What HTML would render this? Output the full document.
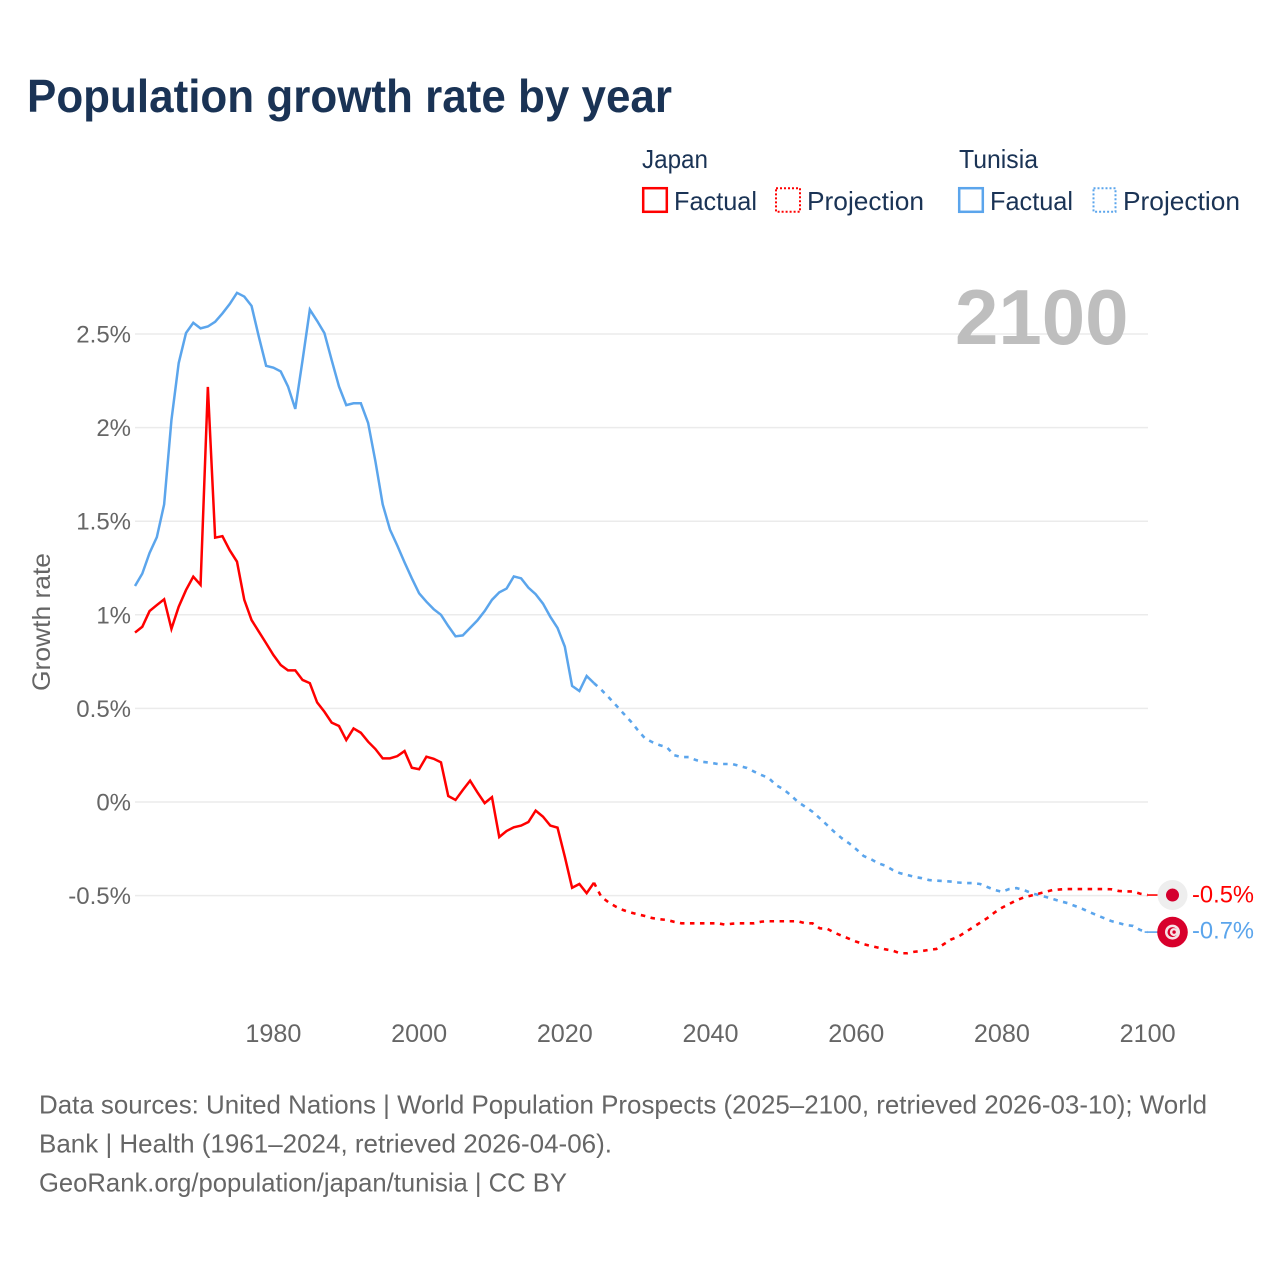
<!DOCTYPE html>
<html lang="en">
<head>
<meta charset="utf-8">
<title>Population growth rate by year</title>
<style>
html,body{margin:0;padding:0;background:#fff;width:1280px;height:1280px;overflow:hidden}
svg{display:block}
text{font-family:"Liberation Sans",sans-serif}
</style>
</head>
<body>
<svg id="chart" xmlns="http://www.w3.org/2000/svg" width="1280" height="1280" viewBox="0 0 1280 1280">
  <rect x="0" y="0" width="1280" height="1280" fill="#ffffff"/>
  <text x="27" y="112" font-size="46" font-weight="700" fill="#1a3355" textLength="645" lengthAdjust="spacingAndGlyphs">Population growth rate by year</text>

  <g>
    <text x="642" y="168" font-size="26" fill="#1a3355" textLength="66" lengthAdjust="spacingAndGlyphs">Japan</text>
    <rect x="643.2" y="188.2" width="23.6" height="23.6" fill="none" stroke="#ff0000" stroke-width="2.5"/>
    <text x="674" y="210" font-size="26" fill="#1a3355" textLength="83" lengthAdjust="spacingAndGlyphs">Factual</text>
    <rect x="776" y="188.2" width="24" height="23.6" fill="none" stroke="#ff0000" stroke-width="2" stroke-dasharray="2 2"/>
    <text x="807" y="210" font-size="26" fill="#1a3355" textLength="117" lengthAdjust="spacingAndGlyphs">Projection</text>

    <text x="959" y="168" font-size="26" fill="#1a3355" textLength="79" lengthAdjust="spacingAndGlyphs">Tunisia</text>
    <rect x="959.2" y="188.2" width="23.6" height="23.6" fill="none" stroke="#5ba5ec" stroke-width="2.5"/>
    <text x="990" y="210" font-size="26" fill="#1a3355" textLength="83" lengthAdjust="spacingAndGlyphs">Factual</text>
    <rect x="1093.5" y="188.2" width="22" height="23.6" fill="none" stroke="#5ba5ec" stroke-width="2" stroke-dasharray="2 2"/>
    <text x="1123" y="210" font-size="26" fill="#1a3355" textLength="117" lengthAdjust="spacingAndGlyphs">Projection</text>
  </g>

  <g id="grid"></g>
  <text x="955" y="344" font-size="78" font-weight="700" fill="#bebebe">2100</text>
  <g id="y-ticks"></g>
  <g id="x-ticks"></g>
  <text transform="translate(50 691) rotate(-90)" font-size="25" fill="#666666" textLength="138" lengthAdjust="spacingAndGlyphs">Growth rate</text>
  <g id="series"></g>
  <g id="end-markers"></g>

  <g>
    <text x="39" y="1113.5" font-size="26" fill="#666666" textLength="1168" lengthAdjust="spacingAndGlyphs">Data sources: United Nations | World Population Prospects (2025–2100, retrieved 2026-03-10); World</text>
    <text x="39" y="1152.5" font-size="26" fill="#666666" textLength="573" lengthAdjust="spacingAndGlyphs">Bank | Health (1961–2024, retrieved 2026-04-06).</text>
    <text x="39" y="1191.5" font-size="26" fill="#666666" textLength="528" lengthAdjust="spacingAndGlyphs">GeoRank.org/population/japan/tunisia | CC BY</text>
  </g>
</svg>

<script>
var factualStartYear = 1961;
var projectionStartYear = 2024;
var yTickValues = [-0.5, 0, 0.5, 1, 1.5, 2, 2.5];
var yTickLabels = ["-0.5%", "0%", "0.5%", "1%", "1.5%", "2%", "2.5%"];
var xTickValues = [1980, 2000, 2020, 2040, 2060, 2080, 2100];
var xTickLabels = ["1980", "2000", "2020", "2040", "2060", "2080", "2100"];

var japanFactual = [
  0.905, 0.936, 1.02, 1.052, 1.083, 0.925, 1.043, 1.132, 1.204, 1.16,
  2.217, 1.412, 1.42, 1.345, 1.284, 1.08, 0.972, 0.91, 0.848, 0.785,
  0.732, 0.703, 0.703, 0.652, 0.635, 0.532, 0.482, 0.424, 0.406, 0.331,
  0.393, 0.37, 0.322, 0.283, 0.233, 0.233, 0.245, 0.272, 0.183, 0.175,
  0.242, 0.231, 0.212, 0.032, 0.011, 0.064, 0.114, 0.052, -0.006, 0.026,
  -0.187, -0.155, -0.135, -0.126, -0.107, -0.046, -0.078, -0.126, -0.137, -0.292,
  -0.458, -0.438, -0.487, -0.431
];
var tunisiaFactual = [
  1.154, 1.22, 1.33, 1.415, 1.59, 2.04, 2.345, 2.505, 2.56, 2.53,
  2.54, 2.565, 2.61, 2.66, 2.72, 2.7, 2.65, 2.485, 2.33, 2.32,
  2.3, 2.22, 2.1, 2.36, 2.63, 2.57, 2.505, 2.36, 2.22, 2.12,
  2.13, 2.13, 2.025, 1.82, 1.59, 1.455, 1.37, 1.28, 1.195, 1.115,
  1.07, 1.03, 1.0, 0.94, 0.885, 0.89, 0.93, 0.97, 1.02, 1.08,
  1.12, 1.14, 1.205, 1.195, 1.145, 1.11, 1.06, 0.99, 0.93, 0.83,
  0.62, 0.593, 0.673, 0.635
];
var japanProjection = [
  -0.431, -0.506, -0.536, -0.559, -0.577, -0.59, -0.6, -0.609, -0.62, -0.626, -0.63,
  -0.64, -0.648, -0.648, -0.648, -0.648, -0.648, -0.648, -0.655, -0.65, -0.648,
  -0.648, -0.648, -0.639, -0.637, -0.637, -0.637, -0.637, -0.637, -0.648, -0.648,
  -0.675, -0.677, -0.698, -0.714, -0.73, -0.746, -0.759, -0.769, -0.778, -0.787,
  -0.794, -0.808, -0.808, -0.8, -0.796, -0.79, -0.785, -0.76, -0.735, -0.72,
  -0.695, -0.67, -0.645, -0.62, -0.59, -0.565, -0.545, -0.525, -0.51, -0.5,
  -0.49, -0.48, -0.47, -0.467, -0.465, -0.465, -0.465, -0.465, -0.465, -0.465,
  -0.466, -0.475, -0.478, -0.478, -0.49, -0.497
];
var tunisiaProjection = [
  0.635, 0.6, 0.56, 0.518, 0.475, 0.433, 0.385, 0.34, 0.32, 0.304, 0.293,
  0.25, 0.24, 0.24, 0.224, 0.214, 0.21, 0.203, 0.203, 0.203, 0.192,
  0.182, 0.162, 0.144, 0.128, 0.09, 0.068, 0.037, 0.0, -0.025, -0.052,
  -0.087, -0.123, -0.16, -0.193, -0.22, -0.252, -0.288, -0.305, -0.327, -0.34,
  -0.363, -0.38, -0.39, -0.4, -0.407, -0.417, -0.42, -0.422, -0.425, -0.43,
  -0.433, -0.433, -0.438, -0.454, -0.47, -0.48, -0.465, -0.46, -0.47, -0.486,
  -0.497, -0.507, -0.518, -0.53, -0.54, -0.555, -0.57, -0.588, -0.604, -0.62,
  -0.636, -0.646, -0.657, -0.662, -0.684, -0.695
];

var NS = 'http://www.w3.org/2000/svg';
var JAPAN_COLOR = '#ff0000';
var TUNISIA_COLOR = '#5ba5ec';

function xScale(year) { return 135 + (year - 1961) * 7.285; }
function yScale(value) { return 802 - value * 187.2; }

function make(tag, parent) {
  var el = document.createElementNS(NS, tag);
  parent.appendChild(el);
  return el;
}
function pointsFor(values, startYear) {
  return values.map(function (v, i) {
    return xScale(startYear + i).toFixed(2) + ',' + yScale(v).toFixed(2);
  }).join(' ');
}

var gridGroup = document.getElementById('grid');
var yGroup = document.getElementById('y-ticks');
yTickValues.forEach(function (v, i) {
  var line = make('line', gridGroup);
  
  
  line.setAttribute('x1', 135);
  line.setAttribute('x2', 1148);
  line.setAttribute('y1', yScale(v));
  line.setAttribute('y2', yScale(v));
  line.setAttribute('stroke', '#ebebeb');
  line.setAttribute('stroke-width', '1.5');

  var label = make('text', yGroup);
  
  
  label.setAttribute('x', 131);
  label.setAttribute('y', yScale(v) + 8.5);
  label.setAttribute('text-anchor', 'end');
  label.setAttribute('font-size', '24');
  label.setAttribute('fill', '#666666');
  label.textContent = yTickLabels[i];
});

var xGroup = document.getElementById('x-ticks');
xTickValues.forEach(function (v, i) {
  var label = make('text', xGroup);
  
  
  label.setAttribute('x', xScale(v) - 28);
  label.setAttribute('y', 1042);
  label.setAttribute('font-size', '25');
  label.setAttribute('fill', '#666666');
  label.setAttribute('textLength', '56');
  label.setAttribute('lengthAdjust', 'spacingAndGlyphs');
  label.textContent = xTickLabels[i];
});

var seriesGroup = document.getElementById('series');

var tunisiaFactualLine = make('polyline', seriesGroup);


tunisiaFactualLine.setAttribute('points', pointsFor(tunisiaFactual, factualStartYear));
tunisiaFactualLine.setAttribute('fill', 'none');
tunisiaFactualLine.setAttribute('stroke', TUNISIA_COLOR);
tunisiaFactualLine.setAttribute('stroke-width', '2.5');

var tunisiaProjectionLine = make('polyline', seriesGroup);


tunisiaProjectionLine.setAttribute('points', pointsFor(tunisiaProjection, projectionStartYear));
tunisiaProjectionLine.setAttribute('fill', 'none');
tunisiaProjectionLine.setAttribute('stroke', TUNISIA_COLOR);
tunisiaProjectionLine.setAttribute('stroke-width', '2.6');
tunisiaProjectionLine.setAttribute('stroke-dasharray', '4.5 5.5');

var japanFactualLine = make('polyline', seriesGroup);


japanFactualLine.setAttribute('points', pointsFor(japanFactual, factualStartYear));
japanFactualLine.setAttribute('fill', 'none');
japanFactualLine.setAttribute('stroke', JAPAN_COLOR);
japanFactualLine.setAttribute('stroke-width', '2.5');

var japanProjectionLine = make('polyline', seriesGroup);


japanProjectionLine.setAttribute('points', pointsFor(japanProjection, projectionStartYear));
japanProjectionLine.setAttribute('fill', 'none');
japanProjectionLine.setAttribute('stroke', JAPAN_COLOR);
japanProjectionLine.setAttribute('stroke-width', '2.6');
japanProjectionLine.setAttribute('stroke-dasharray', '4.5 5.5');

var markers = document.getElementById('end-markers');
var endX = 1172.5;
var japanLast = japanProjection[japanProjection.length - 1];
var tunisiaLast = tunisiaProjection[tunisiaProjection.length - 1];
var japanY = yScale(japanLast);
var tunisiaY = yScale(tunisiaLast);

var japanConnector = make('line', markers);


japanConnector.setAttribute('x1', xScale(2100));
japanConnector.setAttribute('x2', endX - 15);
japanConnector.setAttribute('y1', japanY);
japanConnector.setAttribute('y2', japanY);
japanConnector.setAttribute('stroke', JAPAN_COLOR);
japanConnector.setAttribute('stroke-width', '1.6');

var tunisiaConnector = make('line', markers);


tunisiaConnector.setAttribute('x1', xScale(2100) - 3);
tunisiaConnector.setAttribute('x2', endX - 15);
tunisiaConnector.setAttribute('y1', tunisiaY);
tunisiaConnector.setAttribute('y2', tunisiaY);
tunisiaConnector.setAttribute('stroke', TUNISIA_COLOR);
tunisiaConnector.setAttribute('stroke-width', '1.6');

var japanDisc = make('circle', markers);


japanDisc.setAttribute('cx', endX);
japanDisc.setAttribute('cy', japanY);
japanDisc.setAttribute('r', 15);
japanDisc.setAttribute('fill', '#eeeeee');

var japanSun = make('circle', markers);


japanSun.setAttribute('cx', endX);
japanSun.setAttribute('cy', japanY);
japanSun.setAttribute('r', 6.5);
japanSun.setAttribute('fill', '#d4002e');

var tunisiaDisc = make('circle', markers);


tunisiaDisc.setAttribute('cx', endX);
tunisiaDisc.setAttribute('cy', tunisiaY);
tunisiaDisc.setAttribute('r', 15.3);
tunisiaDisc.setAttribute('fill', '#d8002c');

var tunisiaWhite = make('circle', markers);


tunisiaWhite.setAttribute('cx', endX);
tunisiaWhite.setAttribute('cy', tunisiaY);
tunisiaWhite.setAttribute('r', 7.5);
tunisiaWhite.setAttribute('fill', '#f6e3e6');

var tunisiaCrescent = make('circle', markers);


tunisiaCrescent.setAttribute('cx', endX);
tunisiaCrescent.setAttribute('cy', tunisiaY);
tunisiaCrescent.setAttribute('r', 5);
tunisiaCrescent.setAttribute('fill', '#d8002c');

var tunisiaCrescentCut = make('circle', markers);


tunisiaCrescentCut.setAttribute('cx', endX + 1.4);
tunisiaCrescentCut.setAttribute('cy', tunisiaY);
tunisiaCrescentCut.setAttribute('r', 4);
tunisiaCrescentCut.setAttribute('fill', '#f6e3e6');

var tunisiaStar = make('circle', markers);


tunisiaStar.setAttribute('cx', endX + 1.6);
tunisiaStar.setAttribute('cy', tunisiaY);
tunisiaStar.setAttribute('r', 1.7);
tunisiaStar.setAttribute('fill', '#d8002c');

var japanValue = make('text', markers);


japanValue.setAttribute('x', 1192);
japanValue.setAttribute('y', japanY + 7.5);
japanValue.setAttribute('font-size', '24');
japanValue.setAttribute('fill', JAPAN_COLOR);
japanValue.setAttribute('textLength', '62');
japanValue.setAttribute('lengthAdjust', 'spacingAndGlyphs');
japanValue.textContent = japanLast.toFixed(1) + '%';

var tunisiaValue = make('text', markers);


tunisiaValue.setAttribute('x', 1192);
tunisiaValue.setAttribute('y', tunisiaY + 6.5);
tunisiaValue.setAttribute('font-size', '24');
tunisiaValue.setAttribute('fill', TUNISIA_COLOR);
tunisiaValue.setAttribute('textLength', '62');
tunisiaValue.setAttribute('lengthAdjust', 'spacingAndGlyphs');
tunisiaValue.textContent = tunisiaLast.toFixed(1) + '%';
</script>
</body>
</html>
